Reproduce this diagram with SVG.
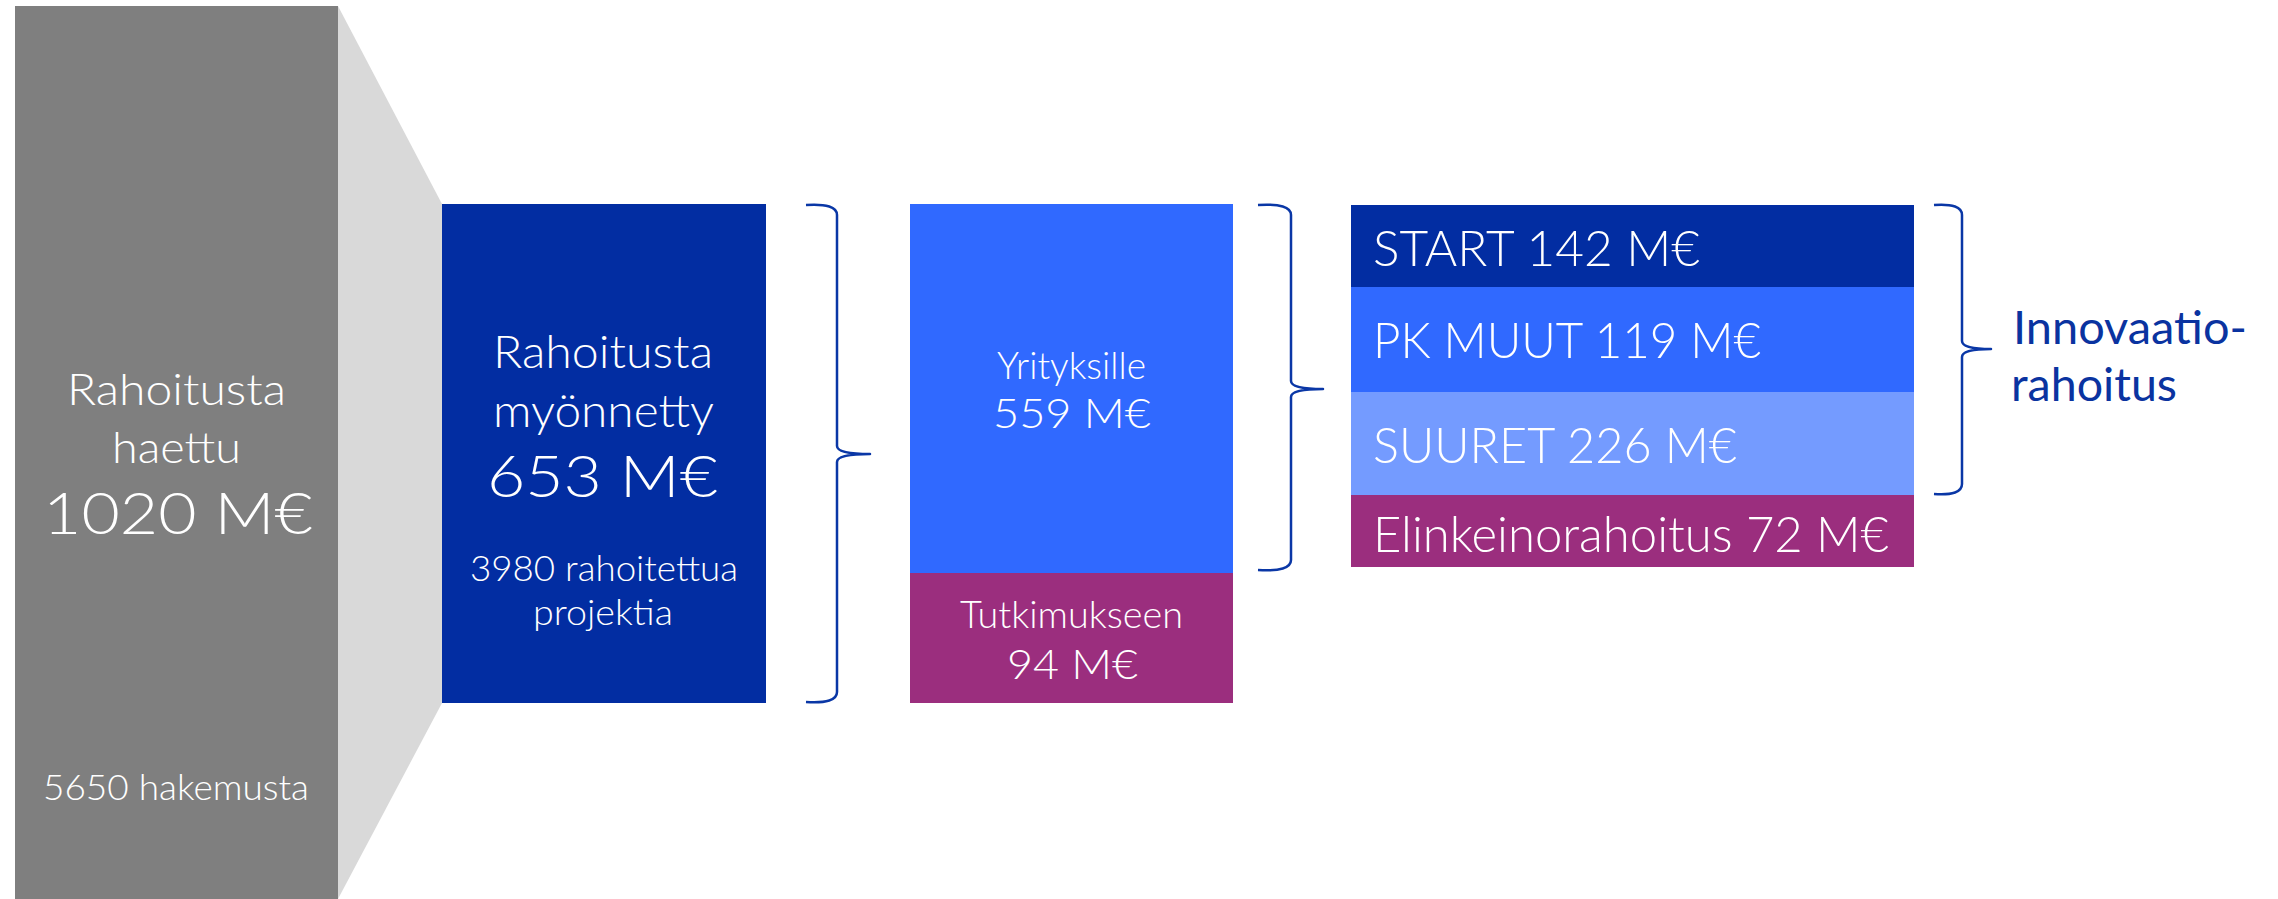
<svg xmlns="http://www.w3.org/2000/svg" width="2278" height="899" viewBox="0 0 2278 899">
<style>
  .t { font-family: Lato, "Liberation Sans", sans-serif; font-weight: 300; fill: #ffffff; }
  .c { text-anchor: middle; }
  .brace { fill: none; stroke: #0a37a6; stroke-width: 2.5; stroke-linejoin: round; }
  .lbl { font-family: Lato, "Liberation Sans", sans-serif; font-weight: 400; fill: #0a33a0; }
</style>
<rect width="2278" height="899" fill="#ffffff"/>
<g id="funnel">
  <polygon points="338,6 442,204 442,703 338,899" fill="#d9d9d9"/>
</g>
<g id="node-haettu">
  <rect x="15" y="6" width="323" height="893" fill="#7f7f7f"/>
  <text class="t c" x="176.5" y="405" font-size="44" textLength="219" lengthAdjust="spacingAndGlyphs">Rahoitusta</text>
  <text class="t c" x="176.5" y="463" font-size="44" textLength="129" lengthAdjust="spacingAndGlyphs">haettu</text>
  <text class="t c" x="178" y="534" font-size="58" textLength="270" lengthAdjust="spacingAndGlyphs">1020 M€</text>
  <text class="t c" x="176" y="800" font-size="36" textLength="266" lengthAdjust="spacingAndGlyphs">5650 hakemusta</text>
</g>
<g id="node-myonnetty">
  <rect x="442" y="204" width="324" height="499" fill="#022da2"/>
  <text class="t c" x="603" y="368" font-size="46" textLength="220" lengthAdjust="spacingAndGlyphs">Rahoitusta</text>
  <text class="t c" x="603.5" y="427" font-size="46" textLength="221" lengthAdjust="spacingAndGlyphs">myönnetty</text>
  <text class="t c" x="602.5" y="497" font-size="58" textLength="231" lengthAdjust="spacingAndGlyphs">653 M€</text>
  <text class="t c" x="604" y="581" font-size="35" textLength="268" lengthAdjust="spacingAndGlyphs">3980 rahoitettua</text>
  <text class="t c" x="603" y="625" font-size="35" textLength="140" lengthAdjust="spacingAndGlyphs">projektia</text>
</g>
<g id="node-yrityksille">
  <rect x="910" y="204" width="323" height="369" fill="#3069ff"/>
  <text class="t c" x="1071.5" y="379" font-size="37" textLength="149" lengthAdjust="spacingAndGlyphs">Yrityksille</text>
  <text class="t c" x="1072" y="428" font-size="41" textLength="158" lengthAdjust="spacingAndGlyphs">559 M€</text>
</g>
<g id="node-tutkimukseen">
  <rect x="910" y="573" width="323" height="130" fill="#9b2e7e"/>
  <text class="t c" x="1071.5" y="628" font-size="37" textLength="223" lengthAdjust="spacingAndGlyphs">Tutkimukseen</text>
  <text class="t c" x="1072.5" y="679" font-size="42" textLength="131" lengthAdjust="spacingAndGlyphs">94 M€</text>
</g>
<g id="node-start">
  <rect x="1351" y="205" width="563" height="82" fill="#022da2"/>
  <text class="t" x="1373" y="266" font-size="49" textLength="327" lengthAdjust="spacingAndGlyphs">START 142 M€</text>
</g>
<g id="node-pkmuut">
  <rect x="1351" y="287" width="563" height="105" fill="#3069ff"/>
  <text class="t" x="1373" y="358" font-size="49" textLength="388" lengthAdjust="spacingAndGlyphs">PK MUUT 119 M€</text>
</g>
<g id="node-suuret">
  <rect x="1351" y="392" width="563" height="103" fill="#749bff"/>
  <text class="t" x="1373" y="463" font-size="49" textLength="364" lengthAdjust="spacingAndGlyphs">SUURET 226 M€</text>
</g>
<g id="node-elinkeino">
  <rect x="1351" y="495" width="563" height="72" fill="#9b2e7e"/>
  <text class="t" x="1373" y="552" font-size="49" textLength="516" lengthAdjust="spacingAndGlyphs">Elinkeinorahoitus 72 M€</text>
</g>
<g id="node-innovaatio">
  <text class="lbl" x="2013" y="344" font-size="46" textLength="234" lengthAdjust="spacingAndGlyphs">Innovaatio-</text>
  <text class="lbl" x="2011" y="401" font-size="46" textLength="166" lengthAdjust="spacingAndGlyphs">rahoitus</text>
</g>
<g id="connectors">
  <path class="brace" d="M806,205 Q837,203 837,215 L837,446 Q837,454 870,454 Q837,454 837,462 L837,692 Q837,704 806,702"/>
  <path class="brace" d="M1258,205 Q1291,203 1291,215 L1291,381 Q1291,389 1323,389 Q1291,389 1291,397 L1291,560 Q1291,572 1258,570"/>
  <path class="brace" d="M1934,205 Q1962,203 1962,215 L1962,341 Q1962,349 1991,349 Q1962,349 1962,357 L1962,484 Q1962,496 1934,494"/>
</g>
</svg>
